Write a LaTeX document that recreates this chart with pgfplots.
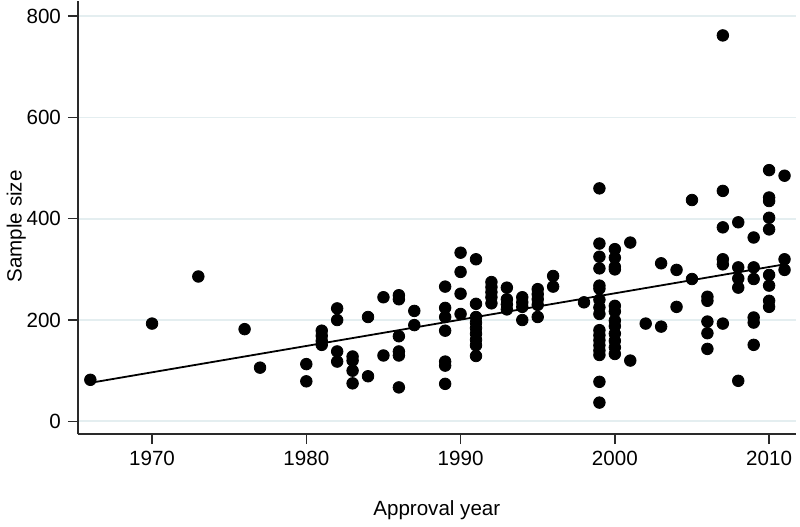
\documentclass[border=0pt]{standalone}
\usepackage{pgfplots}
\pgfplotsset{compat=1.18}
\usepackage{pgfplotstable}
\usepackage{fontspec}
\setmainfont{Liberation Sans}
\definecolor{gridc}{HTML}{E4EEF0}
\definecolor{axc}{HTML}{2A2A2A}
\pgfplotstableread{
year size
1966 82
1970 193
1973 286
1976 182
1977 106
1980 113
1980 79
1981 179
1981 169
1981 159
1981 151
1982 223
1982 200
1982 138
1982 118
1983 128
1983 120
1983 100
1983 75
1984 206
1984 89
1985 245
1985 130
1986 249
1986 241
1986 168
1986 138
1986 130
1986 67
1987 218
1987 190
1989 266
1989 224
1989 206
1989 179
1989 118
1989 110
1989 74
1990 333
1990 295
1990 252
1990 212
1991 320
1991 232
1991 206
1991 195
1991 184
1991 173
1991 161
1991 150
1991 129
1992 275
1992 265
1992 255
1992 245
1992 233
1993 264
1993 241
1993 231
1993 221
1994 245
1994 235
1994 226
1994 200
1995 261
1995 251
1995 241
1995 230
1995 206
1996 287
1996 266
1998 235
1999 460
1999 351
1999 325
1999 302
1999 268
1999 262
1999 240
1999 225
1999 212
1999 180
1999 170
1999 160
1999 150
1999 140
1999 131
1999 78
1999 37
2000 340
2000 323
2000 305
2000 300
2000 228
2000 217
2000 199
2000 188
2000 173
2000 159
2000 146
2000 133
2001 353
2001 120
2002 193
2003 312
2003 187
2004 299
2004 226
2005 437
2005 281
2006 246
2006 238
2006 197
2006 174
2006 143
2007 762
2007 455
2007 383
2007 320
2007 310
2007 193
2008 393
2008 304
2008 282
2008 264
2008 80
2009 363
2009 304
2009 281
2009 205
2009 195
2009 151
2010 496
2010 442
2010 435
2010 402
2010 379
2010 289
2010 268
2010 238
2010 226
2011 485
2011 320
2011 299
}\samples
\pgfplotstableread{
year fit
1966 76
2011 310
}\fitline
\begin{document}
\begin{tikzpicture}
\begin{axis}[
  at={(38.35pt,43.5pt)}, anchor=south west,
  scale only axis,
  width=359.7pt, height=217pt,
  xmin=1965.17, xmax=2011.75,
  ymin=-26, ymax=830,
  axis x line*=bottom, axis y line*=left,
  axis line style={-},
  every outer x axis line/.append style={axc, line width=1pt},
  every outer y axis line/.append style={axc, line width=1pt},
  xtick={1970,1980,1990,2000,2010},
  ytick={0,200,400,600,800},
  x tick label style={/pgf/number format/1000 sep={}},
  /pgf/number format/assume math mode=true,
  tick label style={font=\fontsize{10.3}{12}\selectfont, text=black},
  tick align=outside,
  major tick length=4.8pt,
  tick style={axc, line width=0.7pt},
  ymajorgrids,
  grid style={gridc, line width=0.9pt},
  xlabel={Approval year},
  ylabel={Sample size},
  label style={font=\fontsize{10.3}{12}\selectfont},
  x label style={at={(axis description cs:0.5,-0.1866)}, anchor=base},
  y label style={at={(axis description cs:-0.0779,0.48)}, anchor=base, rotate=0},
]
\addplot[only marks, mark=*, mark size=2.9pt, black] table[x=year, y=size] {\samples};
\addplot[black, line width=0.9pt] table[x=year, y=fit] {\fitline};
\end{axis}
\path (0,0) rectangle (400pt,260.5pt);
\end{tikzpicture}
\end{document}
